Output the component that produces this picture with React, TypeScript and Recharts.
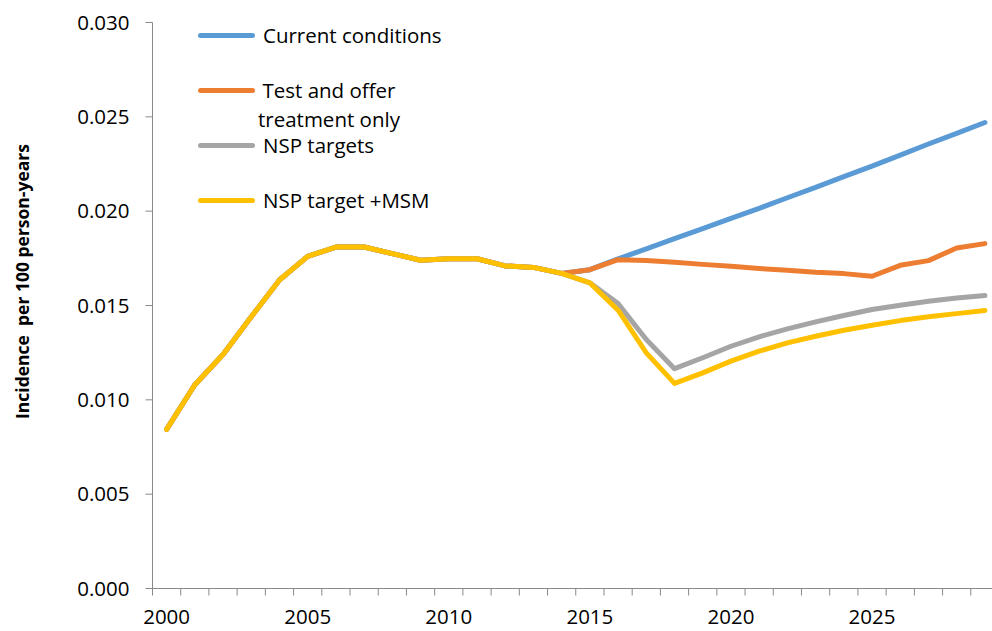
import React from 'react';
import { LineChart, Line, XAxis, YAxis, Legend } from 'recharts';

const years = [2000, 2001, 2002, 2003, 2004, 2005, 2006, 2007, 2008, 2009, 2010, 2011, 2012, 2013, 2014, 2015, 2016, 2017, 2018, 2019, 2020, 2021, 2022, 2023, 2024, 2025, 2026, 2027, 2028, 2029];

const currentConditions = [0.00843, 0.0108, 0.0124, 0.0144, 0.01635, 0.0176, 0.0181, 0.0181, 0.01775, 0.0174, 0.01748, 0.01748, 0.0171, 0.01702, 0.0167, 0.0169, 0.01747, 0.018, 0.01854, 0.01907, 0.01962, 0.02015, 0.02071, 0.02126, 0.02183, 0.02239, 0.02297, 0.02356, 0.02412, 0.0247];
const testAndOffer = [0.00843, 0.0108, 0.0124, 0.0144, 0.01635, 0.0176, 0.0181, 0.0181, 0.01775, 0.0174, 0.01748, 0.01748, 0.0171, 0.01702, 0.0167, 0.0169, 0.01743, 0.01738, 0.01729, 0.01718, 0.01708, 0.01696, 0.01687, 0.01676, 0.01669, 0.01655, 0.01713, 0.01738, 0.01805, 0.01828];
const nspTargets = [0.00843, 0.0108, 0.0124, 0.0144, 0.01635, 0.0176, 0.0181, 0.0181, 0.01775, 0.0174, 0.01748, 0.01748, 0.0171, 0.01702, 0.0167, 0.0162, 0.0151, 0.0132, 0.01165, 0.01223, 0.01284, 0.01334, 0.01376, 0.01413, 0.01447, 0.01479, 0.01501, 0.01523, 0.0154, 0.01553];
const nspTargetMsm = [0.00843, 0.0108, 0.0124, 0.0144, 0.01635, 0.0176, 0.0181, 0.0181, 0.01775, 0.0174, 0.01748, 0.01748, 0.0171, 0.01702, 0.0167, 0.0162, 0.01475, 0.01249, 0.01087, 0.01143, 0.01205, 0.01258, 0.01302, 0.01337, 0.01369, 0.01395, 0.0142, 0.0144, 0.01457, 0.01473];

const seriesNames = ['Current conditions', 'Test and offer treatment only', 'NSP targets', 'NSP target +MSM'];
const legendLines = [['Current conditions'], ['Test and offer', 'treatment only'], ['NSP targets'], ['NSP target +MSM']];
const seriesColors = ['#5B9BD5', '#ED7D31', '#A5A5A5', '#FFC000'];
const seriesKeys = ['current', 'testOffer', 'nsp', 'nspMsm'];

const yTicks = [0, 0.005, 0.01, 0.015, 0.02, 0.025, 0.03];
const xLabelYears = [2000, 2005, 2010, 2015, 2020, 2025];
const xTickMarks = [...years.map((y) => y - 0.5), years[years.length - 1] + 0.5];
const xTicks = [...xTickMarks, ...xLabelYears].sort((a, b) => a - b);

const yTitle = 'Incidence\u00A0 per 100 person-years';

const data = years.map((year, i) => ({
  year,
  current: currentConditions[i],
  testOffer: testAndOffer[i],
  nsp: nspTargets[i],
  nspMsm: nspTargetMsm[i],
}));

const FONT = 'Open Sans';
const AXIS_COLOR = '#898989';

const renderYearTick = (props: any) => {
  const { x, y, payload } = props;
  const v = payload.value;
  if (v % 1 !== 0) {
    return <line x1={x} x2={x} y1={y} y2={y + 7} stroke={AXIS_COLOR} strokeWidth={1} />;
  }
  return (
    <text x={x} y={y + 21} dy="0.71em" textAnchor="middle" fill="#000" fontSize={20.5} fontFamily={FONT}>
      {v}
    </text>
  );
};

const renderLegend = (props: any) => {
  const payload: any[] = props.payload || [];
  const ordered = seriesNames
    .map((name) => payload.find((p: any) => p.value === name))
    .filter(Boolean);
  return (
    <div style={{ fontFamily: FONT, fontSize: 20.5, color: '#000' }}>
      {ordered.map((entry: any, i: number) => {
        const idx = seriesNames.indexOf(entry.value);
        const lines = legendLines[idx] || [entry.value];
        return (
          <div key={i} style={{ display: 'flex', alignItems: 'flex-start', height: 55 }}>
            <svg width={57} height={29} style={{ flex: 'none' }}>
              <line x1={2.5} y1={14.5} x2={54.5} y2={14.5} stroke={entry.color} strokeWidth={5} strokeLinecap="round" />
            </svg>
            <div
              style={{
                marginLeft: lines.length > 1 ? 3 : 8,
                lineHeight: '29px',
                textAlign: 'center',
                whiteSpace: 'nowrap',
              }}
            >
              {lines.map((l: string, j: number) => (
                <div key={j}>{l}</div>
              ))}
            </div>
          </div>
        );
      })}
    </div>
  );
};

const renderYTitle = (props: any) => {
  const vb = props.viewBox || { x: 0, y: 0, width: 0, height: 0 };
  const cx = vb.x + 13.7;
  const cy = vb.y + vb.height / 2 - 24;
  return (
    <text
      x={cx}
      y={cy}
      transform={`rotate(-90, ${cx}, ${cy})`}
      textAnchor="middle"
      dominantBaseline="central"
      fontFamily={FONT}
      fontSize={17.5}
      fontWeight={700}
      fill="#000"
      xmlSpace="preserve"
      style={{ whiteSpace: 'pre' }}
    >
      {yTitle}
    </text>
  );
};

export default function App() {
  return (
    <div style={{ position: 'absolute', left: 8, top: 8, width: 984, height: 623, overflow: 'hidden', background: '#fff' }}>
      <LineChart
        width={1000}
        height={623}
        data={data}
        margin={{ top: 14.5, right: 9, bottom: 0, left: 0 }}
        style={{ fontFamily: FONT }}
      >
        <XAxis
          dataKey="year"
          type="number"
          domain={[1999.5, 2029.5]}
          ticks={xTicks}
          interval={0}
          tickLine={false}
          tickSize={0}
          tickMargin={0}
          tick={renderYearTick}
          axisLine={{ stroke: AXIS_COLOR, strokeWidth: 1 }}
          height={42.5}
          allowDataOverflow
        />
        <YAxis
          type="number"
          domain={[0, 0.03]}
          ticks={yTicks}
          interval={0}
          width={144.5}
          tickSize={7}
          tickMargin={16}
          tickFormatter={(v: number) => v.toFixed(3)}
          tick={{ fill: '#000', fontSize: 20.5, fontFamily: FONT }}
          tickLine={{ stroke: AXIS_COLOR }}
          axisLine={{ stroke: AXIS_COLOR, strokeWidth: 1 }}
          label={{ content: renderYTitle }}
          allowDataOverflow
        />
        <Legend
          layout="vertical"
          align="center"
          verticalAlign="middle"
          itemSorter={null as any}
          content={renderLegend}
          wrapperStyle={{ position: 'absolute', left: 190, top: 13, width: 'auto', height: 'auto', margin: 0 }}
        />
        {seriesKeys.map((k, i) => (
          <Line
            key={k}
            type="linear"
            dataKey={k}
            name={seriesNames[i]}
            stroke={seriesColors[i]}
            strokeWidth={5}
            strokeLinecap="round"
            strokeLinejoin="round"
            dot={false}
            activeDot={false}
            isAnimationActive={false}
          />
        ))}
      </LineChart>
    </div>
  );
}
